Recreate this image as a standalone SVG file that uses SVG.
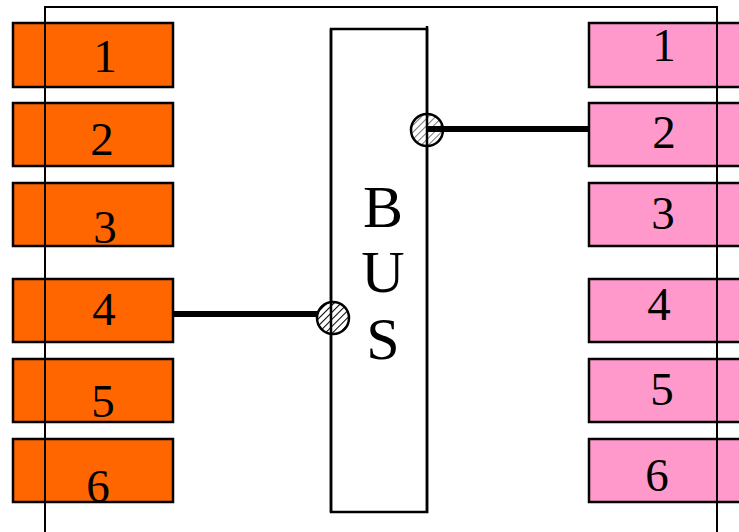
<svg xmlns="http://www.w3.org/2000/svg" width="739" height="532" viewBox="0 0 739 532">
<style>
.lb{fill:#FF6600;stroke:#000;stroke-width:2.5}
.rb{fill:#FF99CC;stroke:#000;stroke-width:2.5}
.t{font-family:"Liberation Serif","Times New Roman",serif;font-size:47px;fill:#000;text-anchor:middle}
.bus{font-family:"Liberation Serif","Times New Roman",serif;font-size:60px;fill:#000;text-anchor:middle}
.wire{stroke:#000;stroke-width:6;fill:none}
.node{stroke:#000;stroke-width:2.5}
</style>
<defs>
<pattern id="hatch" width="5" height="5" patternUnits="userSpaceOnUse" patternTransform="rotate(45)">
<rect width="5" height="5" fill="#fff"/>
<line x1="0" y1="0" x2="0" y2="5" stroke="#000" stroke-width="2"/>
</pattern>
<pattern id="hatch2" width="5" height="5" patternUnits="userSpaceOnUse" patternTransform="rotate(45)">
<rect width="5" height="5" fill="#fff"/>
<line x1="0" y1="0" x2="0" y2="5" stroke="#777" stroke-width="2"/>
</pattern>
</defs>
<rect width="739" height="532" fill="#fff"/>
<g id="left-ports">
<g id="L1"><rect class="lb" x="13" y="23" width="160" height="64"/><text class="t" x="105" y="72">1</text></g>
<g id="L2"><rect class="lb" x="13" y="103" width="160" height="63"/><text class="t" x="102" y="155">2</text></g>
<g id="L3"><rect class="lb" x="13" y="183" width="160" height="63"/><text class="t" x="105" y="243">3</text></g>
<g id="L4"><rect class="lb" x="13" y="279" width="160" height="63"/><text class="t" x="104" y="325">4</text></g>
<g id="L5"><rect class="lb" x="13" y="359" width="160" height="63"/><text class="t" x="103" y="417">5</text></g>
<g id="L6"><rect class="lb" x="13" y="439" width="160" height="63"/><text class="t" x="98" y="502">6</text></g>
</g>
<g id="right-ports">
<g id="R1"><rect class="rb" x="589" y="23" width="160" height="64"/><text class="t" x="664" y="61">1</text></g>
<g id="R2"><rect class="rb" x="589" y="103" width="160" height="63"/><text class="t" x="664" y="148">2</text></g>
<g id="R3"><rect class="rb" x="589" y="183" width="160" height="63"/><text class="t" x="663" y="229">3</text></g>
<g id="R4"><rect class="rb" x="589" y="279" width="160" height="63"/><text class="t" x="659" y="320">4</text></g>
<g id="R5"><rect class="rb" x="589" y="359" width="160" height="63"/><text class="t" x="662" y="405">5</text></g>
<g id="R6"><rect class="rb" x="589" y="439" width="160" height="63"/><text class="t" x="657" y="491">6</text></g>
</g>
<g id="frame" fill="none" stroke="#000">
<polyline points="45,532 45,7 717,7 717,532" stroke-width="2"/>
</g>
<g id="bus">
<rect x="331" y="29" width="96" height="483" fill="#fff" stroke="#000" stroke-width="2.5"/>
<text class="bus" x="383" y="227">B</text>
<text class="bus" x="383" y="292">U</text>
<text class="bus" x="383" y="359">S</text>
</g>
<g id="connectors">
<line class="wire" x1="427" y1="129" x2="589" y2="129"/>
<line class="wire" x1="173" y1="314" x2="318" y2="314"/>
</g>
<g id="tap-top"><circle class="node" cx="427" cy="130" r="16" fill="url(#hatch2)"/></g>
<g id="tap-bottom"><circle class="node" cx="333" cy="318" r="16" fill="url(#hatch)"/></g>
<g id="bus-edges" stroke="#000" stroke-width="2.5">
<line x1="427" y1="26" x2="427" y2="513"/>
<line x1="331" y1="29" x2="331" y2="512"/>
<line x1="427" y1="129" x2="443" y2="129" stroke-width="6"/>
</g>
</svg>
